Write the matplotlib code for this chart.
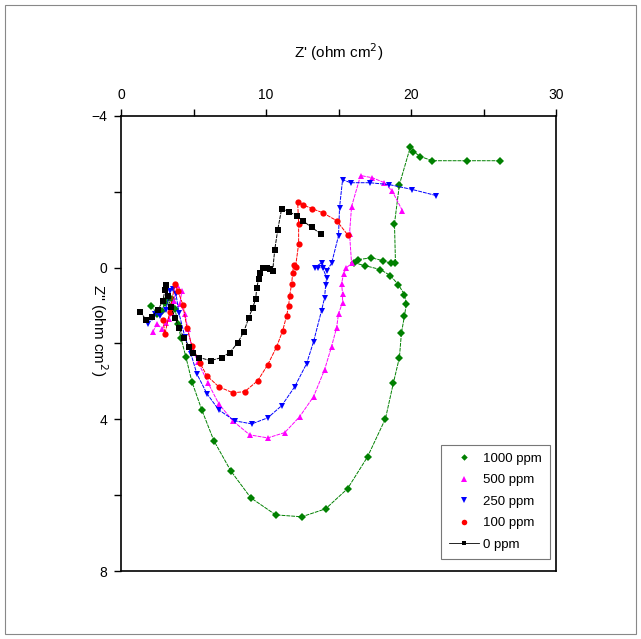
import matplotlib.pyplot as plt
from matplotlib.lines import Line2D
from matplotlib.patches import Rectangle
from matplotlib.ticker import MultipleLocator

plt.rcParams['font.family'] = ['Liberation Sans', 'DejaVu Sans']

# Z' (ohm cm2), Z'' (ohm cm2) for each concentration
x_0 = [1.31, 1.72, 2.13, 2.55, 2.89, 3.03, 3.10, 3.23, 3.44, 3.72, 3.99, 4.34, 4.68, 4.96,
       5.37, 6.19, 6.95, 7.50, 8.05, 8.47, 8.81, 9.08, 9.29, 9.36, 9.50, 9.57, 9.77, 10.05,
       10.25, 10.46, 10.60, 10.81, 11.08, 11.56, 12.11, 12.53, 13.15, 13.76]
y_0 = [1.16, 1.37, 1.29, 1.11, 0.87, 0.58, 0.47, 0.74, 1.03, 1.32, 1.58, 1.85, 2.08, 2.24,
       2.37, 2.45, 2.37, 2.24, 1.98, 1.69, 1.32, 1.06, 0.82, 0.53, 0.29, 0.13, 0.00, 0.00,
       0.03, 0.08, -0.47, -1.00, -1.56, -1.48, -1.37, -1.24, -1.06, -0.90]

x_100 = [2.89, 3.03, 3.37, 3.72, 3.92, 4.27, 4.54, 4.89, 5.44, 5.92, 6.74, 7.71, 8.53, 9.43,
         10.12, 10.74, 11.15, 11.42, 11.56, 11.63, 11.77, 11.84, 11.91, 12.04, 12.25, 12.25,
         12.18, 12.53, 13.15, 13.90, 14.87, 15.62]
y_100 = [1.37, 1.74, 1.16, 0.42, 0.61, 0.98, 1.58, 2.06, 2.51, 2.85, 3.14, 3.30, 3.27, 2.98,
         2.56, 2.08, 1.66, 1.27, 1.00, 0.74, 0.42, 0.13, -0.08, -0.03, -0.63, -1.16,
         -1.74, -1.66, -1.56, -1.45, -1.24, -0.87]

x_250 = [1.86, 2.13, 2.34, 2.68, 3.10, 3.37, 3.58, 3.79, 3.99, 4.40, 4.82, 5.23, 5.92, 6.74,
         7.85, 9.02, 10.12, 11.08, 11.98, 12.80, 13.28, 13.83, 14.04, 14.11, 14.18, 13.90,
         13.56, 13.35, 13.83, 14.18, 14.52, 15.00, 15.07, 15.28, 15.83, 17.14, 18.51, 20.10,
         21.75]
y_250 = [1.48, 1.32, 1.21, 1.27, 1.11, 0.61, 0.55, 0.69, 1.19, 1.82, 2.27, 2.80, 3.32, 3.75,
         4.04, 4.12, 3.96, 3.64, 3.14, 2.53, 1.95, 1.13, 0.79, 0.47, 0.26, 0.00, 0.00, 0.00,
         -0.13, 0.08, -0.11, -0.84, -1.58, -2.32, -2.24, -2.24, -2.19, -2.06, -1.90]

x_500 = [2.20, 2.48, 2.82, 3.10, 3.30, 3.51, 3.65, 3.85, 4.20, 4.06, 4.40, 4.61, 4.89, 5.30,
         5.99, 6.74, 7.71, 8.88, 10.12, 11.29, 12.32, 13.28, 14.04, 14.52, 14.87, 15.00,
         15.28, 15.28, 15.21, 15.35, 15.55, 15.90, 15.76, 15.90, 16.52, 17.34, 18.17, 18.72,
         19.41]
y_500 = [1.69, 1.48, 1.61, 1.45, 1.35, 1.19, 0.87, 0.47, 0.61, 0.95, 1.21, 1.61, 2.11, 2.48,
         3.03, 3.59, 4.04, 4.41, 4.49, 4.35, 3.93, 3.40, 2.69, 2.08, 1.58, 1.21, 0.92, 0.69,
         0.42, 0.16, 0.00, -0.11, -0.90, -1.61, -2.43, -2.37, -2.24, -2.01, -1.50]

x_1000 = [2.06, 2.48, 2.82, 3.03, 3.23, 3.51, 3.72, 3.92, 4.13, 4.47, 4.89, 5.57, 6.40, 7.57,
          8.95, 10.67, 12.46, 14.11, 15.62, 17.00, 18.24, 18.79, 19.20, 19.34, 19.55, 19.68,
          19.55, 19.13, 18.58, 17.89, 16.86, 16.04, 16.31, 17.27, 18.10, 18.65, 18.93, 18.86,
          19.20, 19.96, 20.17, 20.65, 21.47, 23.88, 26.15]
y_1000 = [1.00, 1.21, 1.13, 0.92, 0.79, 0.82, 1.08, 1.48, 1.85, 2.35, 3.01, 3.75, 4.56, 5.36,
          6.07, 6.52, 6.57, 6.36, 5.83, 4.99, 3.98, 3.03, 2.37, 1.72, 1.27, 0.95, 0.71, 0.45,
          0.21, 0.05, -0.05, -0.13, -0.21, -0.26, -0.18, -0.11, -0.11, -1.16, -2.19, -3.19,
          -3.06, -2.93, -2.82, -2.82, -2.82]

labels = ['1000 ppm', '500 ppm', '250 ppm', '100 ppm', '0 ppm']
series = [(x_1000, y_1000, '#008000', 'D', 3.8),
          (x_500, y_500, '#ff00ff', '^', 5),
          (x_250, y_250, '#0000ff', 'v', 5),
          (x_100, y_100, '#ff0000', 'o', 4.5),
          (x_0, y_0, '#000000', 's', 4)]

fig = plt.figure(figsize=(6.41, 6.39), dpi=100)
ax = fig.add_axes([0.1888, 0.1064, 0.6786, 0.7121])

for (x, y, c, m, ms) in series:
    ax.plot(x, y, color=c, marker=m, markersize=ms, linewidth=0.7,
            linestyle=(0, (4, 1)), markeredgewidth=0)

ax.set_xlim(0, 30)
ax.set_ylim(8, -4)
ax.xaxis.tick_top()
ax.xaxis.set_label_position('top')
ax.xaxis.set_major_locator(MultipleLocator(10))
ax.xaxis.set_minor_locator(MultipleLocator(5))
ax.yaxis.set_major_locator(MultipleLocator(4))
ax.yaxis.set_minor_locator(MultipleLocator(2))
ax.tick_params(which='both', direction='out', length=5, width=1, labelsize=10, pad=5)
ax.tick_params(which='both', right=False, bottom=False)
for s in ax.spines.values():
    s.set_linewidth(1.2)
ax.set_xlabel("Z' (ohm cm$^2$)", fontsize=11, labelpad=22)
ax.set_ylabel("Z'' (ohm cm$^2$)", fontsize=11, rotation=270)
ax.yaxis.set_label_coords(-0.075, 0.53)

handles = []
for i, (x, y, c, m, ms) in enumerate(series):
    ls = '-' if labels[i] == '0 ppm' else 'None'
    handles.append(Line2D([], [], color=c, marker=m, markersize=ms - 0.5, linewidth=0.6,
                          linestyle=ls, markeredgewidth=0))
leg = ax.legend(handles, labels, loc='lower right', bbox_to_anchor=(0.986, 0.027),
                frameon=True, fancybox=False, edgecolor='#555555', fontsize=9.5,
                handlelength=2.3, labelspacing=0.7, borderpad=0.6, borderaxespad=0,
                handletextpad=0.3)
leg.get_frame().set_linewidth(0.8)

fig.patches.append(Rectangle((0.008, 0.008), 0.984, 0.984, transform=fig.transFigure,
                             fill=False, edgecolor='#888888', linewidth=0.8))

fig.savefig('out.png', dpi=100)
